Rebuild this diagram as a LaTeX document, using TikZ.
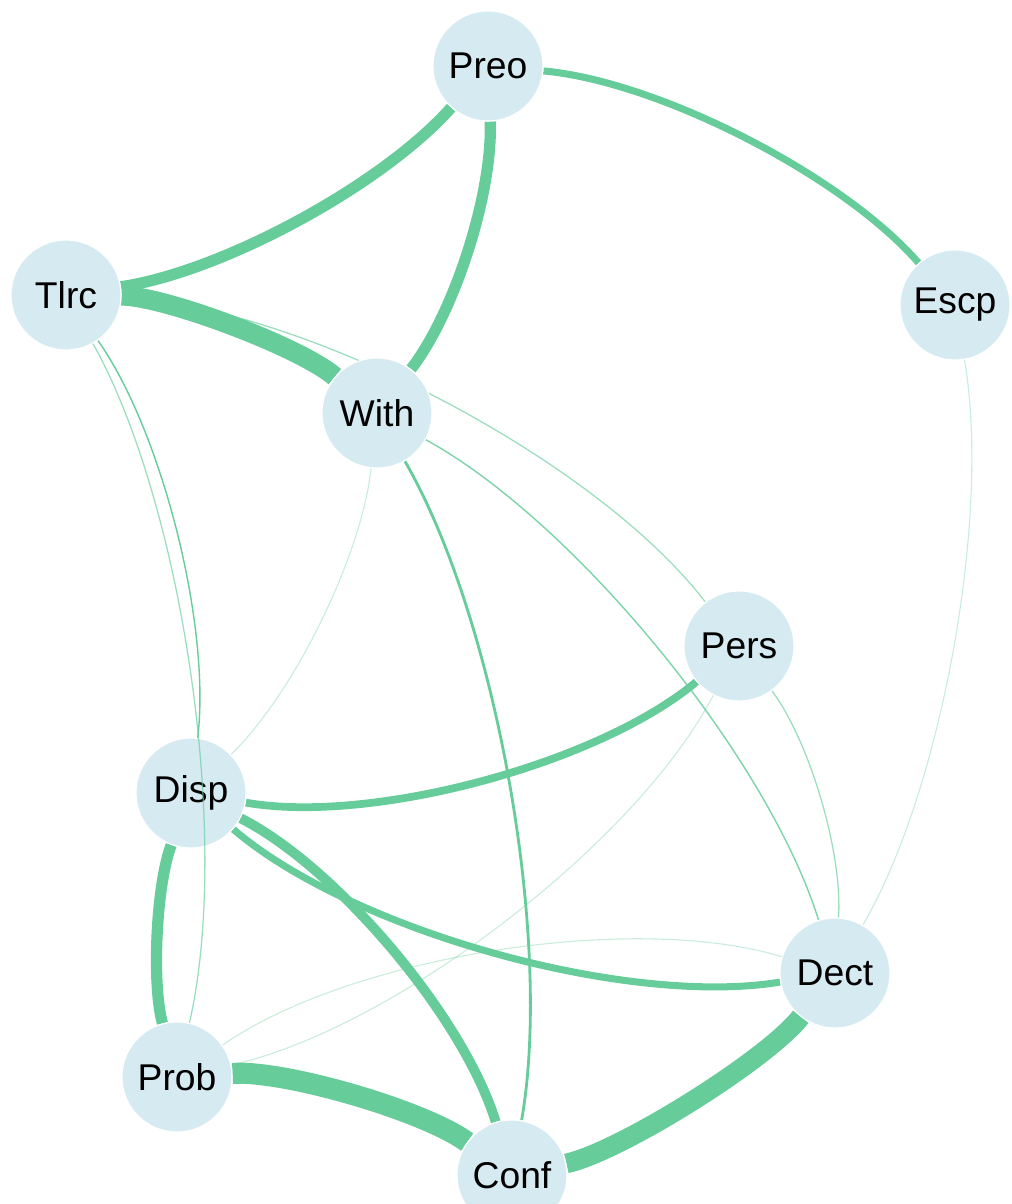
\documentclass[tikz,border=0pt]{standalone}
\usepackage{fontspec}
\setmainfont{Liberation Sans}
\usetikzlibrary{backgrounds}
\definecolor{varfill}{RGB}{214,234,241}
\definecolor{edgegreen}{RGB}{102,204,153}
\tikzset{
  var/.style={circle, fill=varfill, draw=white, line width=0.8pt,
    minimum size=2.75cm, inner sep=0pt, font=\fontsize{26.5}{30}\selectfont},
  edge/.style={draw=edgegreen, line cap=butt, looseness=0.7},
  faint/.style={edge, line width=0.8pt, draw opacity=0.35},
  weak/.style={edge, line width=0.9pt, draw opacity=0.65}
}

\begin{document}
\begin{tikzpicture}[x=0.025cm, y=0.025cm]
          \useasboundingbox (0,0) rectangle (1012,1204);

          \node[var] (Preo) at (488,1138) {Preo};
          \node[var] (Tlrc) at (66,909) {Tlrc};
          \node[var] (Escp) at (955,899) {Escp};
          \node[var] (With) at (377,791) {With};
          \node[var] (Pers) at (739,558) {Pers};
          \node[var] (Disp) at (191,411) {Disp};
          \node[var] (Dect) at (835,231) {Dect};
          \node[var] (Prob) at (177,127) {Prob};
          \node[var] (Conf) at (512,29) {Conf};

          \begin{pgfonlayer}{background}
          % faint ones first
          \draw[faint] (With) to[bend left=20] (Disp);
          \draw[faint] (Escp) to[bend left=20] (Dect);
          \draw[faint] (Prob) to[bend right=25] (Pers);
          \draw[faint] (Prob) to[bend left=26] (Dect);

          \draw[weak] (Tlrc) to[bend left=25] (Pers);
          \draw[weak] (Pers) to[bend left=20] (Dect);
          \draw[edge, line width=1pt] (Tlrc) to[bend left=21] (Disp);
          \draw[edge, line width=1pt, draw opacity=0.85] (With) to[bend left=22] (Dect);
          \draw[edge, line width=2pt] (With) to[bend left=20] (Conf);

          \draw[edge, line width=5pt] (Preo) to[bend left=22] (Escp);
          \draw[edge, line width=5pt] (Disp) to[bend right=25] (Dect);
          \draw[edge, line width=5.5pt] (Pers) to[bend left=25] (Disp);
          \draw[edge, line width=7pt] (Disp) to[bend left=23] (Conf);
          \draw[edge, line width=8pt, looseness=0.6] (Disp) to[bend right=18] (Prob);
          \draw[edge, line width=8pt] (Preo) to[bend left=20] (With);
          \draw[edge, line width=8pt] (Tlrc) to[bend right=20] (Preo);

          % heavy ones on top
          \draw[edge, line width=14pt, looseness=0.5] (Tlrc) to[bend left=20] (With);
          \draw[edge, line width=14pt, looseness=0.5] (Conf) to[bend right=20] (Dect);
          \draw[edge, line width=15pt, looseness=0.55] (Prob) to[bend left=20] (Conf);
          \end{pgfonlayer}

          % this one runs over Disp
          \draw[weak] (Tlrc) to[bend left=21] (Prob);
\end{tikzpicture}
\end{document}
